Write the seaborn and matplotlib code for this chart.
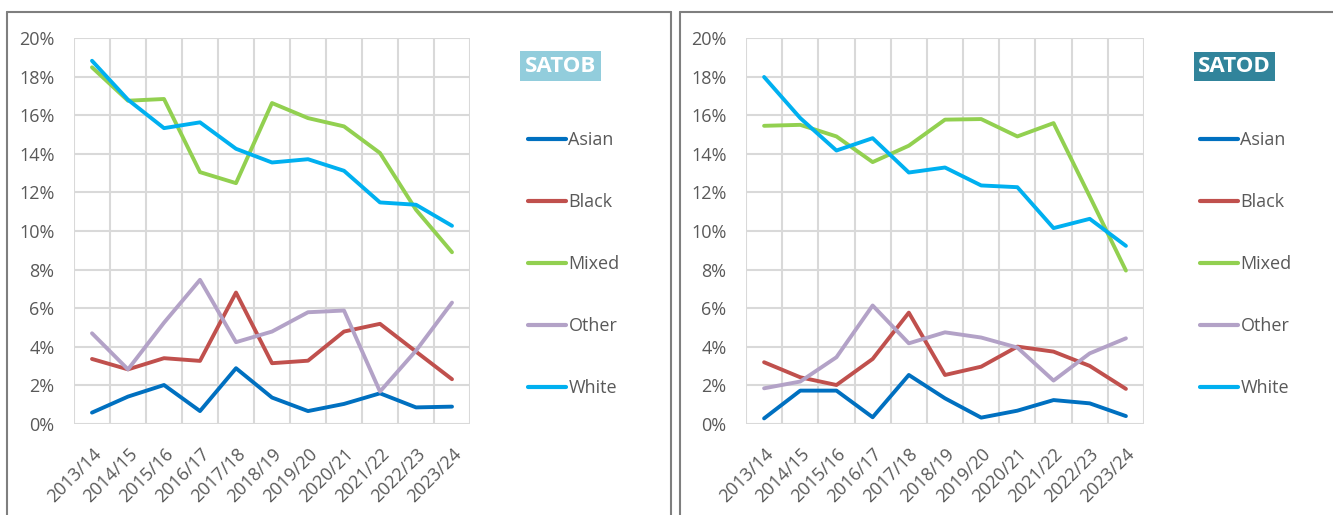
import matplotlib
matplotlib.use("Agg")
import matplotlib.pyplot as plt
from matplotlib.ticker import FuncFormatter, FixedLocator
import seaborn as sns
import pandas as pd

years = ["2013/14", "2014/15", "2015/16", "2016/17", "2017/18", "2018/19",
         "2019/20", "2020/21", "2021/22", "2022/23", "2023/24"]
groups = ["Asian", "Black", "Mixed", "Other", "White"]

# SATOB values (%)
satob_asian = [0.59, 1.42, 2.02, 0.67, 2.89, 1.37, 0.67, 1.04, 1.59, 0.86, 0.90]
satob_black = [3.37, 2.83, 3.41, 3.27, 6.81, 3.15, 3.28, 4.79, 5.19, 3.75, 2.32]
satob_mixed = [18.48, 16.75, 16.84, 13.05, 12.48, 16.63, 15.85, 15.42, 14.04, 11.10, 8.90]
satob_other = [4.70, 2.83, 5.25, 7.47, 4.24, 4.79, 5.79, 5.88, 1.68, 3.80, 6.29]
satob_white = [18.82, 16.80, 15.33, 15.63, 14.26, 13.55, 13.72, 13.12, 11.48, 11.36, 10.27]

# SATOD values (%)
satod_asian = [0.29, 1.73, 1.73, 0.35, 2.54, 1.33, 0.33, 0.69, 1.24, 1.07, 0.41]
satod_black = [3.20, 2.42, 2.02, 3.37, 5.77, 2.54, 2.97, 4.01, 3.75, 3.01, 1.82]
satod_mixed = [15.45, 15.50, 14.90, 13.57, 14.42, 15.77, 15.80, 14.90, 15.59, 11.79, 7.95]
satod_other = [1.85, 2.20, 3.46, 6.14, 4.18, 4.75, 4.48, 3.96, 2.25, 3.66, 4.44]
satod_white = [17.98, 15.85, 14.17, 14.81, 13.03, 13.29, 12.36, 12.27, 10.15, 10.63, 9.23]

palette = {"Asian": "#0070C0", "Black": "#C0504D", "Mixed": "#92D050",
           "Other": "#B3A2C7", "White": "#00B0F0"}
grey_text = "#595959"


def long_frame(series):
    rows = []
    for g, vals in zip(groups, series):
        for i, v in enumerate(vals):
            rows.append({"pos": i, "year": years[i], "group": g, "value": v})
    return pd.DataFrame(rows)


satob = long_frame([satob_asian, satob_black, satob_mixed, satob_other, satob_white])
satod = long_frame([satod_asian, satod_black, satod_mixed, satod_other, satod_white])

sns.set_theme(style="white")
plt.rcParams["font.family"] = ["Open Sans", "DejaVu Sans"]

fig = plt.figure(figsize=(13.33, 5.15), dpi=100)
W, H = 1333, 515


def fx(px):
    return px / W


def fy(py):
    return 1 - py / H


# panel frames
for x0, x1 in [(7, 671), (680, 1340)]:
    fig.add_artist(plt.Line2D([fx(x0), fx(x0)], [fy(12), fy(520)], color="#7F7F7F", lw=1.5))
    fig.add_artist(plt.Line2D([fx(x0), fx(x1)], [fy(12), fy(12)], color="#7F7F7F", lw=1.5))
    fig.add_artist(plt.Line2D([fx(x1), fx(x1)], [fy(12), fy(520)], color="#7F7F7F", lw=1.5))


def draw(ax, data, legend_px):
    sns.lineplot(data=data, x="pos", y="value", hue="group", palette=palette,
                 hue_order=groups, linewidth=2.8, ax=ax, legend=True)
    ax.set_xlim(-0.5, 10.5)
    ax.set_ylim(0, 20)
    ax.set_yticks(range(0, 21, 2))
    ax.yaxis.set_major_formatter(FuncFormatter(lambda v, p: f"{int(v)}%"))
    ax.set_xticks(range(len(years)))
    ax.set_xticklabels(years, rotation=45, ha="right", rotation_mode="anchor")
    ax.xaxis.set_minor_locator(FixedLocator([i - 0.5 for i in range(12)]))
    ax.grid(True, which="minor", axis="x", color="#D9D9D9", lw=1.5)
    ax.grid(True, which="major", axis="y", color="#D9D9D9", lw=1.5)
    ax.grid(False, which="major", axis="x")
    ax.set_axisbelow(True)
    for s in ax.spines.values():
        s.set_visible(False)
    ax.tick_params(axis="both", which="both", length=0, labelsize=13,
                   labelcolor=grey_text)
    ax.tick_params(axis="y", pad=14)
    ax.tick_params(axis="x", pad=15)
    ax.set_xlabel("")
    ax.set_ylabel("")
    handles, labels = ax.get_legend_handles_labels()
    ax.get_legend().remove()
    leg = fig.legend(handles, labels, loc="upper left", frameon=False,
                     bbox_to_anchor=(fx(legend_px), fy(124)), fontsize=13,
                     labelcolor=grey_text, handlelength=2.1, handletextpad=0.15,
                     labelspacing=2.44, borderaxespad=0)
    for ln in leg.get_lines():
        ln.set_linewidth(3)
    return ax


ax1 = fig.add_axes([fx(74), fy(424), fx(470 - 74), (424 - 38) / H])
draw(ax1, satob, 520.6)
ax2 = fig.add_axes([fx(746), fy(424), fx(1144 - 746), (424 - 38) / H])
draw(ax2, satod, 1192.6)

# title boxes
fig.text(fx(560.5), fy(66), "SATOB", ha="center", va="center", fontsize=16,
         fontweight="bold", color="white",
         bbox=dict(boxstyle="square,pad=0.2", fc="#92CDDC", ec="none"))
fig.text(fx(1234.5), fy(66.5), "SATOD", ha="center", va="center", fontsize=16,
         fontweight="bold", color="white",
         bbox=dict(boxstyle="square,pad=0.2", fc="#31849B", ec="none"))

fig.savefig("out.png", dpi=100)
